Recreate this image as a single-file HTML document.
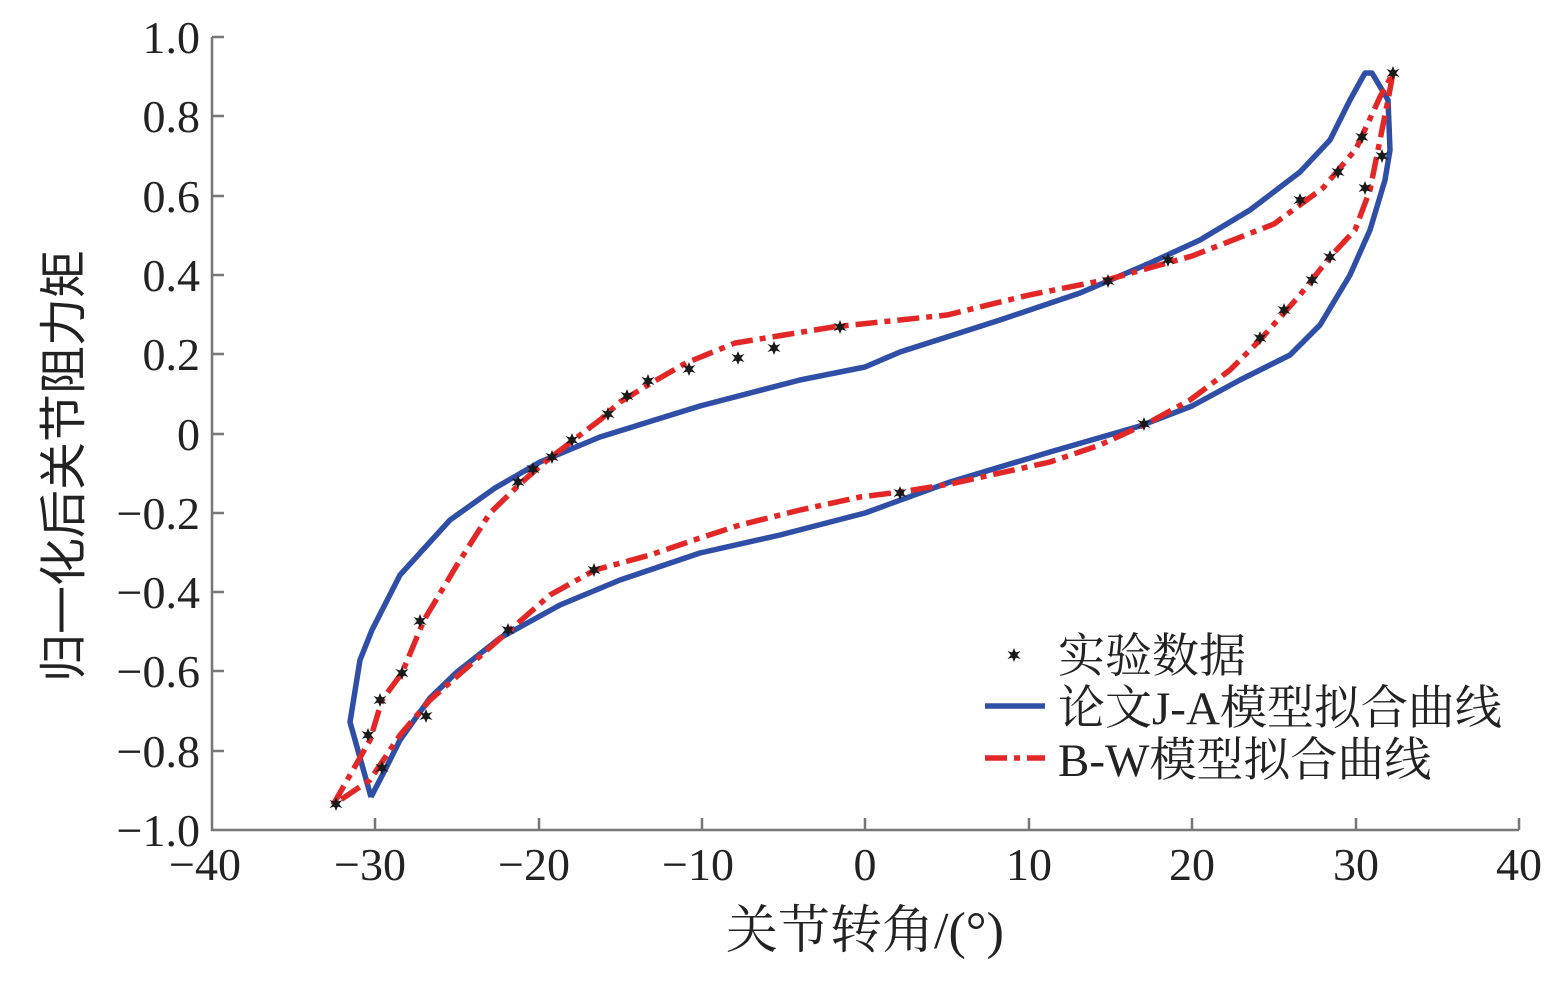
<!DOCTYPE html>
<html><head><meta charset="utf-8"><style>
html,body{margin:0;padding:0;background:#fff;}
svg{display:block;font-family:"Liberation Serif","Noto Serif CJK SC",serif;}
</style></head><body>
<svg width="1559" height="989" viewBox="0 0 1559 989" xmlns="http://www.w3.org/2000/svg">
<defs>
<g id="st" fill="#1a1a1a"><path d="M0,-7 L1.8,-2.5 L6.5,-4 L3,0 L6.5,4 L1.8,2.5 L0,7 L-1.8,2.5 L-6.5,4 L-3,0 L-6.5,-4 L-1.8,-2.5Z"/><circle r="3.5"/></g>
</defs>
<g stroke="#777" stroke-width="2.5" fill="none">
<path d="M212,37 V830 H1519"/>
<path d="M212,37h12M212,116h12M212,196h12M212,275h12M212,354h12M212,434h12M212,513h12M212,592h12M212,671h12M212,751h12"/>
<path d="M375,830v-12M539,830v-12M702,830v-12M865,830v-12M1029,830v-12M1192,830v-12M1356,830v-12M1519,830v-12"/>
</g>
<g font-size="46" fill="#222" text-anchor="end">
<text x="200" y="53">1.0</text><text x="200" y="132">0.8</text><text x="200" y="212">0.6</text><text x="200" y="291">0.4</text><text x="200" y="370">0.2</text><text x="200" y="450">0</text><text x="200" y="529">−0.2</text><text x="200" y="608">−0.4</text><text x="200" y="687">−0.6</text><text x="200" y="767">−0.8</text><text x="200" y="846">−1.0</text>
</g>
<g font-size="46" fill="#222" text-anchor="middle">
<text x="205" y="880">−40</text><text x="370" y="880">−30</text><text x="534" y="880">−20</text><text x="698" y="880">−10</text><text x="865" y="880">0</text><text x="1029" y="880">10</text><text x="1192" y="880">20</text><text x="1356" y="880">30</text><text x="1519" y="880">40</text>
<text x="865" y="948" font-size="52">关节转角/(°)</text>
<text transform="translate(80,466) rotate(-90)" font-size="48" font-family="'Liberation Sans','Noto Sans CJK SC',sans-serif">归一化后关节阻力矩</text>
</g>
<path fill="none" stroke="#2f4fa6" stroke-width="5.5" stroke-linejoin="round" d="M371,797 L350,722 L360,660 L372,630 L400,575 L450,520 L495,488 L540,462 L600,437 L700,406 L800,380 L865,367 L900,352 L1000,320 L1080,293 L1150,263 L1200,240 L1250,210 L1300,172 L1330,140 L1350,100 L1365,73 L1372,73 L1388,100 L1390,150 L1385,180 L1370,230 L1350,275 L1320,325 L1290,355 L1240,380 L1192,406 L1140,426 L1050,452 L950,482 L865,513 L780,535 L700,553 L620,580 L560,605 L500,638 L457,672 L430,698 L400,740 L385,770 L371,797"/>
<path fill="none" stroke="#e32726" stroke-width="5.5" stroke-dasharray="22,7,6,7" d="M333,805 L370,740 L382,700 L402,673 L424,620 L457,565 L490,513 L522,482 L545,462 L571,442 L600,420 L620,402 L653,382 L686,363 L735,343 L784,335 L833,327 L947,315 L1029,295 L1110,279 L1192,256 L1274,224 L1323,188 L1356,149 L1380,97 L1393,73 L1388,100 L1380,140 L1370,190 L1355,230 L1330,257 L1300,295 L1260,340 L1230,370 L1190,400 L1150,422 L1100,445 L1050,462 L1000,473 L950,484 L900,492 L860,497 L800,510 L740,525 L700,538 L650,555 L595,570 L550,595 L510,630 L470,665 L430,700 L400,735 L370,780 L333,805"/>
<g>
<use href="#st" x="1393" y="73"/><use href="#st" x="1362" y="137"/><use href="#st" x="1338" y="172"/><use href="#st" x="1300" y="200"/><use href="#st" x="1382" y="156"/><use href="#st" x="1365" y="188"/><use href="#st" x="1330" y="257"/><use href="#st" x="1312" y="280"/><use href="#st" x="1284" y="310"/><use href="#st" x="1260" y="338"/><use href="#st" x="1144" y="424"/><use href="#st" x="900" y="493"/><use href="#st" x="594" y="570"/><use href="#st" x="508" y="630"/><use href="#st" x="426" y="716"/><use href="#st" x="382" y="768"/><use href="#st" x="368" y="735"/><use href="#st" x="380" y="700"/><use href="#st" x="402" y="673"/><use href="#st" x="420" y="621"/><use href="#st" x="518" y="482"/><use href="#st" x="533" y="469"/><use href="#st" x="552" y="457"/><use href="#st" x="572" y="440"/><use href="#st" x="608" y="414"/><use href="#st" x="627" y="396"/><use href="#st" x="648" y="381"/><use href="#st" x="689" y="369"/><use href="#st" x="738" y="358"/><use href="#st" x="774" y="348"/><use href="#st" x="840" y="327"/><use href="#st" x="1108" y="281"/><use href="#st" x="1168" y="260"/><use href="#st" x="336" y="804"/>
<use href="#st" x="1014" y="655"/>
</g>
<line x1="985" y1="706" x2="1045" y2="706" stroke="#2f4fa6" stroke-width="5.5"/>
<line x1="985" y1="758" x2="1045" y2="758" stroke="#e32726" stroke-width="5.5" stroke-dasharray="22,7,6,7"/>
<g font-size="47" fill="#222">
<text x="1058" y="672">实验数据</text>
<text x="1058" y="724">论文J-A模型拟合曲线</text>
<text x="1058" y="776">B-W模型拟合曲线</text>
</g>
</svg>
</body></html>
